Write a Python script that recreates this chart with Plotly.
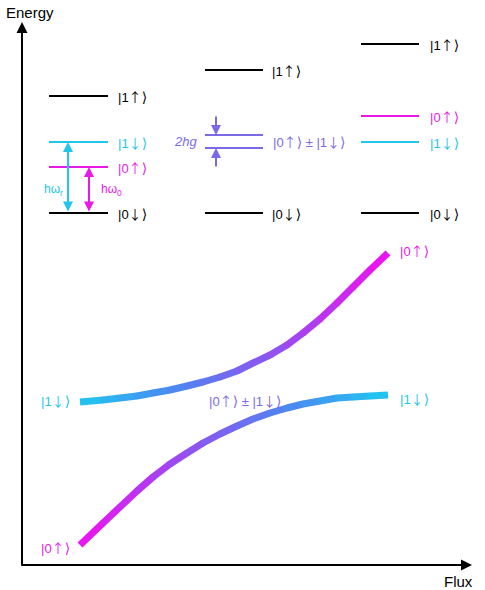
import plotly.graph_objects as go
from plotly.colors import sample_colorscale

# ---------------- data (schematic energies, arbitrary units) ----------------
left_states = ["|1↑⟩", "|1↓⟩", "|0↑⟩", "|0↓⟩"]
left_energy = [469, 423, 398, 352]

mid_states = ["|1↑⟩", "|0↓⟩"]
mid_energy = [495, 352]
mid_split_energy = [430, 417]          # |0↑⟩ ± |1↓⟩ doublet
mid_split_label = "|0↑⟩ ± |1↓⟩"

right_states = ["|1↑⟩", "|0↑⟩", "|1↓⟩", "|0↓⟩"]
right_energy = [521, 449, 423, 352]

curve_flux = [58, 81, 98, 115, 131, 148, 165, 181, 198, 215,
              231, 248, 265, 281, 298, 315, 331, 348, 366]
upper_energy = [163, 165, 167, 169, 172, 175, 179, 183, 188, 194,
                202, 210, 220, 232, 246, 262, 278, 295, 312]
lower_energy = [20, 42, 58, 74, 88, 101, 112, 122, 131, 139,
                146, 152, 157, 161, 164, 167, 168, 169, 170]

# ---------------- styles ----------------
BLACK = "#000000"
CYAN = "#22c6ea"
MAGENTA = "#e619e6"
PURPLE = "#7b6ae8"
state_color = {"|1↑⟩": BLACK, "|0↓⟩": BLACK, "|1↓⟩": CYAN, "|0↑⟩": MAGENTA}
grad = [[0.0, "#20c8f0"], [0.3, "#4a8af0"], [0.62, "#8c55f0"], [1.0, "#f010f0"]]
FONT = "Liberation Sans, Arial, DejaVu Sans, sans-serif"


def ket(text):
    """Render arrows / brackets with thin tall glyphs, like the reference."""
    out = text
    for ch in ("↑", "↓"):
        out = out.replace(ch, f'<span style="font-family:Noto Sans CJK JP;font-size:13px">{ch}</span>')
    out = out.replace("⟩", '<span style="font-family:DejaVu Sans;font-size:14px">⟩</span>')
    return out


fig = go.Figure()


def level(x0, x1, e, color, width=2):
    fig.add_trace(go.Scatter(x=[x0, x1], y=[e, e], mode="lines",
                             line=dict(color=color, width=width),
                             hoverinfo="skip", showlegend=False))


def label(x, y, text, color, anchor="left", size=13, italic=False, is_ket=True):
    t = ket(text) if is_ket else text
    if italic:
        t = f"<i>{t}</i>"
    fig.add_annotation(x=x, y=y, text=t,
                       showarrow=False, xanchor=anchor, yanchor="middle",
                       font=dict(family=FONT, size=size, color=color))


def arrow(x, y, ax, ay, color, width=2, size=1.0, both=False):
    fig.add_annotation(x=x, y=y, ax=ax, ay=ay, axref="x", ayref="y",
                       xref="x", yref="y", text="", showarrow=True,
                       arrowhead=2, arrowsize=size, arrowwidth=width,
                       arrowcolor=color,
                       arrowside="end+start" if both else "end")


# left column
for s, e in zip(left_states, left_energy):
    level(27, 86, e, state_color[s])
    label(94, e, s, state_color[s])
e_1dn, e_0up, e_0dn = left_energy[1], left_energy[2], left_energy[3]
arrow(46, e_1dn, 46, e_0dn, CYAN, both=True)
arrow(67, e_0up, 67, e_0dn, MAGENTA, both=True)
label(43, 375, "hω<sub>r</sub>", CYAN, anchor="right", size=12, is_ket=False)
label(77, 375, "hω<sub>0</sub>", MAGENTA, anchor="left", size=12, is_ket=False)

# middle column
for s, e in zip(mid_states, mid_energy):
    level(183, 241, e, state_color[s])
    label(248, e, s, state_color[s])
for e in mid_split_energy:
    level(183, 241, e, PURPLE)
label(249, sum(mid_split_energy) / 2, mid_split_label, PURPLE)
label(177, sum(mid_split_energy) / 2, "2hg", PURPLE, anchor="right",
      italic=True, is_ket=False)
arrow(194, mid_split_energy[0], 194, mid_split_energy[0] + 20, PURPLE)
arrow(194, mid_split_energy[1], 194, mid_split_energy[1] - 20, PURPLE)

# right column
for s, e in zip(right_states, right_energy):
    level(339, 397, e, state_color[s])
    label(406, e, s, state_color[s])

# anticrossing curves with colour gradient
fmin, fmax = curve_flux[0], curve_flux[-1]
for energies, reverse in ((upper_energy, False), (lower_energy, True)):
    seg_colors = []
    for i in range(len(curve_flux) - 1):
        t = ((curve_flux[i] + curve_flux[i + 1]) / 2 - fmin) / (fmax - fmin)
        if reverse:
            t = 1 - t
        c = sample_colorscale(grad, [t])[0]
        seg_colors.append(c)
        fig.add_trace(go.Scatter(x=curve_flux[i:i + 2], y=energies[i:i + 2],
                                 mode="lines", line=dict(color=c, width=7),
                                 hoverinfo="skip", showlegend=False))
    # round the joints between segments
    fig.add_trace(go.Scatter(x=curve_flux[1:-1], y=energies[1:-1], mode="markers",
                             marker=dict(color=seg_colors[1:], size=6.5, line=dict(width=0)),
                             hoverinfo="skip", showlegend=False))

label(50, upper_energy[0] + 2, "|1↓⟩", CYAN, anchor="right")
label(50, lower_energy[0] - 2, "|0↑⟩", MAGENTA, anchor="right")
label(376, upper_energy[-1] + 3, "|0↑⟩", MAGENTA)
label(376, lower_energy[-1] - 3, "|1↓⟩", CYAN)
label(223, 165, mid_split_label, PURPLE, anchor="center")

# axes arrows
arrow(0, 543, 0, -2, BLACK, width=2, size=1.1)
arrow(450, 0, -2, 0, BLACK, width=2, size=1.1)
label(8, 553, "Energy", BLACK, anchor="center", size=15, is_ket=False)
label(436, -16, "Flux", BLACK, anchor="center", size=15, is_ket=False)

fig.update_layout(
    width=485, height=590, margin=dict(l=0, r=0, t=0, b=0),
    paper_bgcolor="white", plot_bgcolor="white",
    xaxis=dict(range=[-22, 463], visible=False, fixedrange=True),
    yaxis=dict(range=[-25, 565], visible=False, fixedrange=True),
)
fig.write_html("out.html", config={"displayModeBar": False},
               post_script="document.body.style.margin='0';")
